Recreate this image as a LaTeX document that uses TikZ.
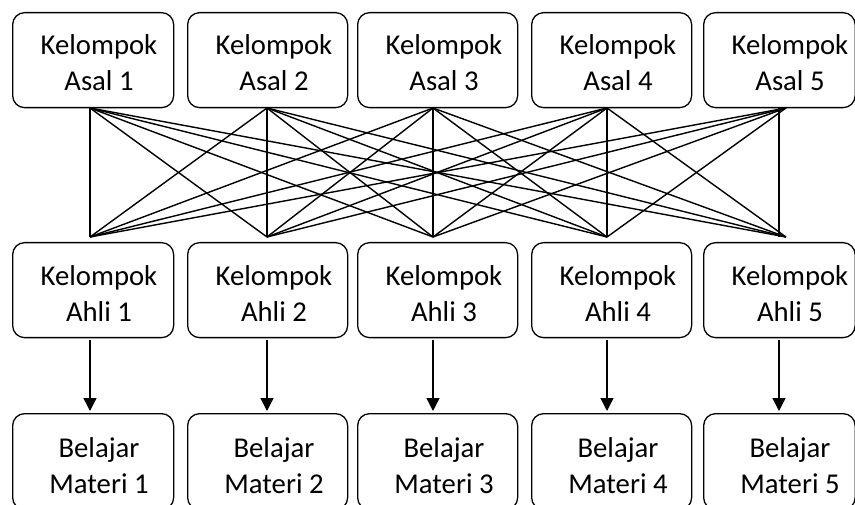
\documentclass[tikz,border=0pt]{standalone}
\usepackage{fontspec}
\setmainfont{Carlito}
\usetikzlibrary{arrows.meta}
\tikzset{
  box/.style={draw=black, line width=1.3pt, rounded corners=12pt, anchor=north west, inner sep=0pt},
  lbl/.style={anchor=base, align=center, inner sep=0pt, font=\fontsize{28.7}{36}\selectfont},
  link/.style={draw=black, line width=1.4pt},
  flow/.style={draw=black, line width=1.4pt, -{Triangle[length=13pt,width=13pt]}}
}
\begin{document}
\begin{tikzpicture}[x=1pt,y=-1pt]
\useasboundingbox (0,0) rectangle (855,505);
\clip (0,0) rectangle (855,505);
% box geometry: left, width, text center x
\foreach \i/\l/\w/\c in {1/12/161/99,2/187/160/274,3/357/160/444,4/531/160/618,5/703/151.5/790}{
  \node[box, minimum width=\w pt, minimum height=95pt] (asal\i) at (\l,12) {};
  \node[lbl] (asalt\i) at (\c,91) {Kelompok\\Asal \i};
  \node[box, minimum width=\w pt, minimum height=95pt] (ahli\i) at (\l,242) {};
  \node[lbl] (ahlit\i) at (\c,322) {Kelompok\\Ahli \i};
  \node[box, minimum width=\w pt, minimum height=96pt] (materi\i) at (\l,413) {};
  \node[lbl] (materit\i) at (\c,493) {Belajar\\Materi \i};
}
% link points
\foreach \i/\x in {1/90,2/267,3/433,4/607,5/786}{
  \coordinate (t\i) at (\x,108);
  \coordinate (b\i) at (\x,237);
}
\foreach \i/\x in {1/90,2/267,3/433,4/607,5/779}{
  \coordinate (v\i) at (\x,108);
  \coordinate (w\i) at (\x,237);
  \coordinate (as\i) at (\x,340);
  \coordinate (ae\i) at (\x,411);
}
\foreach \i in {1,...,5}{
  \foreach \j in {1,...,5}{
    \ifnum\i=\j\relax\else
      \draw[link] (t\i) -- (b\j);
    \fi
  }
  \draw[link] (v\i) -- (w\i);
  \draw[flow] (as\i) -- (ae\i);
}
\end{tikzpicture}
\end{document}
